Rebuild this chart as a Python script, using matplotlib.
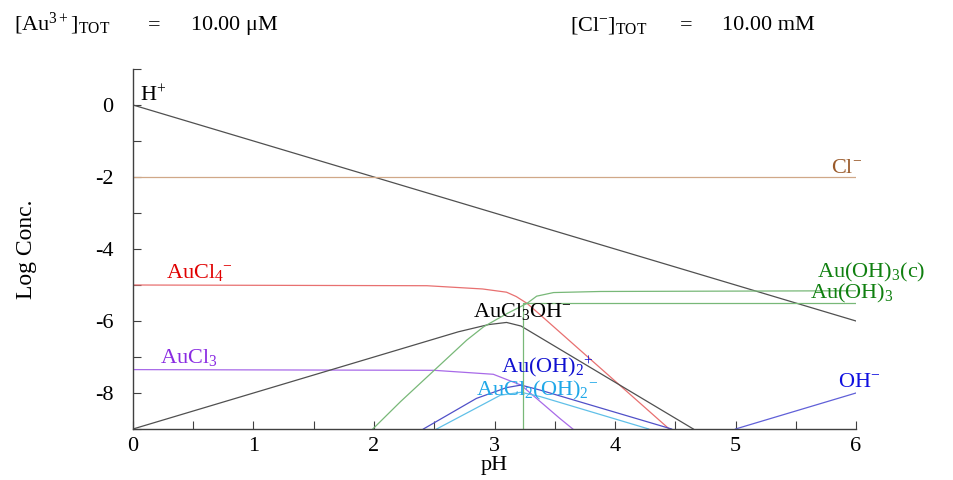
import matplotlib
matplotlib.use("Agg")
import matplotlib.pyplot as plt
from matplotlib.ticker import MultipleLocator

plt.rcParams['font.family'] = ['Liberation Serif', 'DejaVu Serif']
plt.rcParams['mathtext.fontset'] = 'custom'
plt.rcParams['mathtext.rm'] = 'Liberation Serif'
plt.rcParams['mathtext.it'] = 'Liberation Serif'
plt.rcParams['mathtext.default'] = 'rm'

# --- data (pH, log concentration) ---
h_ph = [0, 6]
h_log = [0, -6]

oh_ph = [5, 6]
oh_log = [-9, -8]

cl_ph = [0, 6]
cl_log = [-2, -2]

aucl4_ph = [0, 2.44, 2.9, 3.1, 3.18, 3.27, 3.38, 4.45]
aucl4_log = [-5.0, -5.02, -5.11, -5.2, -5.32, -5.51, -5.83, -9.0]

aucl3_ph = [0, 2.5, 2.99, 3.22, 3.54, 3.65]
aucl3_log = [-7.35, -7.37, -7.48, -7.78, -8.7, -9.0]

aucl3oh_ph = [0, 2.7, 2.95, 3.1, 3.22, 3.3, 4.65]
aucl3oh_log = [-9.0, -6.3, -6.1, -6.04, -6.14, -6.3, -9.0]

auoh2_ph = [2.41, 2.85, 3.1, 3.22, 3.38, 4.47]
auoh2_log = [-9.0, -8.15, -7.85, -7.78, -7.92, -9.0]

aucl2oh2_ph = [2.52, 3.05, 3.22, 3.38, 4.28]
aucl2oh2_log = [-9.0, -8.06, -7.98, -8.1, -9.0]

auoh3c_ph = [1.99, 2.22, 2.77, 2.91, 3.1, 3.27, 3.35, 3.49, 3.88, 6.0]
auoh3c_log = [-9.0, -8.24, -6.53, -6.16, -5.8, -5.51, -5.31, -5.21, -5.18, -5.16]

auoh3_ph = [3.24, 3.24, 6.0]
auoh3_log = [-9.0, -5.5, -5.5]

fig = plt.figure(figsize=(9.54, 4.80), dpi=100)
ax = fig.add_axes([133 / 954, 51 / 480, 723 / 954, 360 / 480])

lw = 0.9
ax.plot(h_ph, h_log, color="#505050", lw=lw)
ax.plot(oh_ph, oh_log, color="#6060d8", lw=lw)
ax.plot(cl_ph, cl_log, color="#d0a888", lw=lw)
ax.plot(aucl4_ph, aucl4_log, color="#e87070", lw=lw)
ax.plot(aucl3_ph, aucl3_log, color="#a86ae8", lw=lw)
ax.plot(aucl3oh_ph, aucl3oh_log, color="#505050", lw=lw)
ax.plot(auoh2_ph, auoh2_log, color="#5050c8", lw=lw)
ax.plot(aucl2oh2_ph, aucl2oh2_log, color="#60c0e8", lw=lw)
ax.plot(auoh3c_ph, auoh3c_log, color="#78b878", lw=lw)
ax.plot(auoh3_ph, auoh3_log, color="#78b878", lw=lw)

fs = 16
ax.text(0.06, 0.11, r"H$^{+}$", fontsize=fs, color="black")
ax.text(6.05, -1.89, r"Cl$^{-}$", fontsize=fs, color="#9a5a2a", ha="right")
ax.text(0.27, -4.8, r"AuCl$_4$$^{-}$", fontsize=fs, color="#e00000")
ax.text(0.22, -7.17, r"AuCl$_3$", fontsize=fs, color="#8a2be2")
ax.text(3.23, -5.89, r"AuCl$_3$OH$^{-}$", fontsize=fs, color="black", ha="center")
ax.text(3.44, -7.45, r"Au(OH)$_2$$^{+}$", fontsize=fs, color="#1010d0", ha="center")
ax.text(3.35, -8.08, r"AuCl$_2$(OH)$_2$$^{-}$", fontsize=fs, color="#20a8e8", ha="center")
ax.text(5.68, -4.78, r"Au(OH)$_3$(c)", fontsize=fs, color="#108010")
ax.text(5.62, -5.38, r"Au(OH)$_3$", fontsize=fs, color="#108010")
ax.text(5.85, -7.83, r"OH$^{-}$", fontsize=fs, color="#1010e0")

ax.set_xlim(0, 6)
ax.set_ylim(-9, 1)
ax.xaxis.set_major_locator(MultipleLocator(1))
ax.xaxis.set_minor_locator(MultipleLocator(0.5))
ax.yaxis.set_minor_locator(MultipleLocator(1))
ax.set_yticks([-8, -6, -4, -2, 0])
ax.set_yticklabels(["-8", "-6", "-4", "-2", "0"])
ax.tick_params(which="both", direction="in", length=6, width=0.8,
               labelsize=fs, color="#404040")
ax.tick_params(axis="y", pad=14)
ax.tick_params(axis="x", pad=6)
for s in ["top", "right"]:
    ax.spines[s].set_visible(False)
for s in ["left", "bottom"]:
    ax.spines[s].set_color("#404040")
    ax.spines[s].set_linewidth(1.0)

ax.set_xlabel("pH", fontsize=fs)
ax.xaxis.set_label_coords(0.5, -0.075)
ax.set_ylabel("Log Conc.", fontsize=fs + 1, labelpad=42)

# header: totals
hy = 1 - 30 / 480
fig.text(14 / 954, hy, r"[Au$^{3+}$]$_{\rm TOT}$", fontsize=fs, va="baseline")
fig.text(148 / 954, hy, "=", fontsize=fs, va="baseline")
fig.text(190 / 954, hy, r"10.00 $\mu$M", fontsize=fs, va="baseline")
fig.text(570 / 954, hy, r"[Cl$^{-}$]$_{\rm TOT}$", fontsize=fs, va="baseline")
fig.text(680 / 954, hy, "=", fontsize=fs, va="baseline")
fig.text(722 / 954, hy, "10.00 mM", fontsize=fs, va="baseline")

fig.savefig("out.png", dpi=100)
